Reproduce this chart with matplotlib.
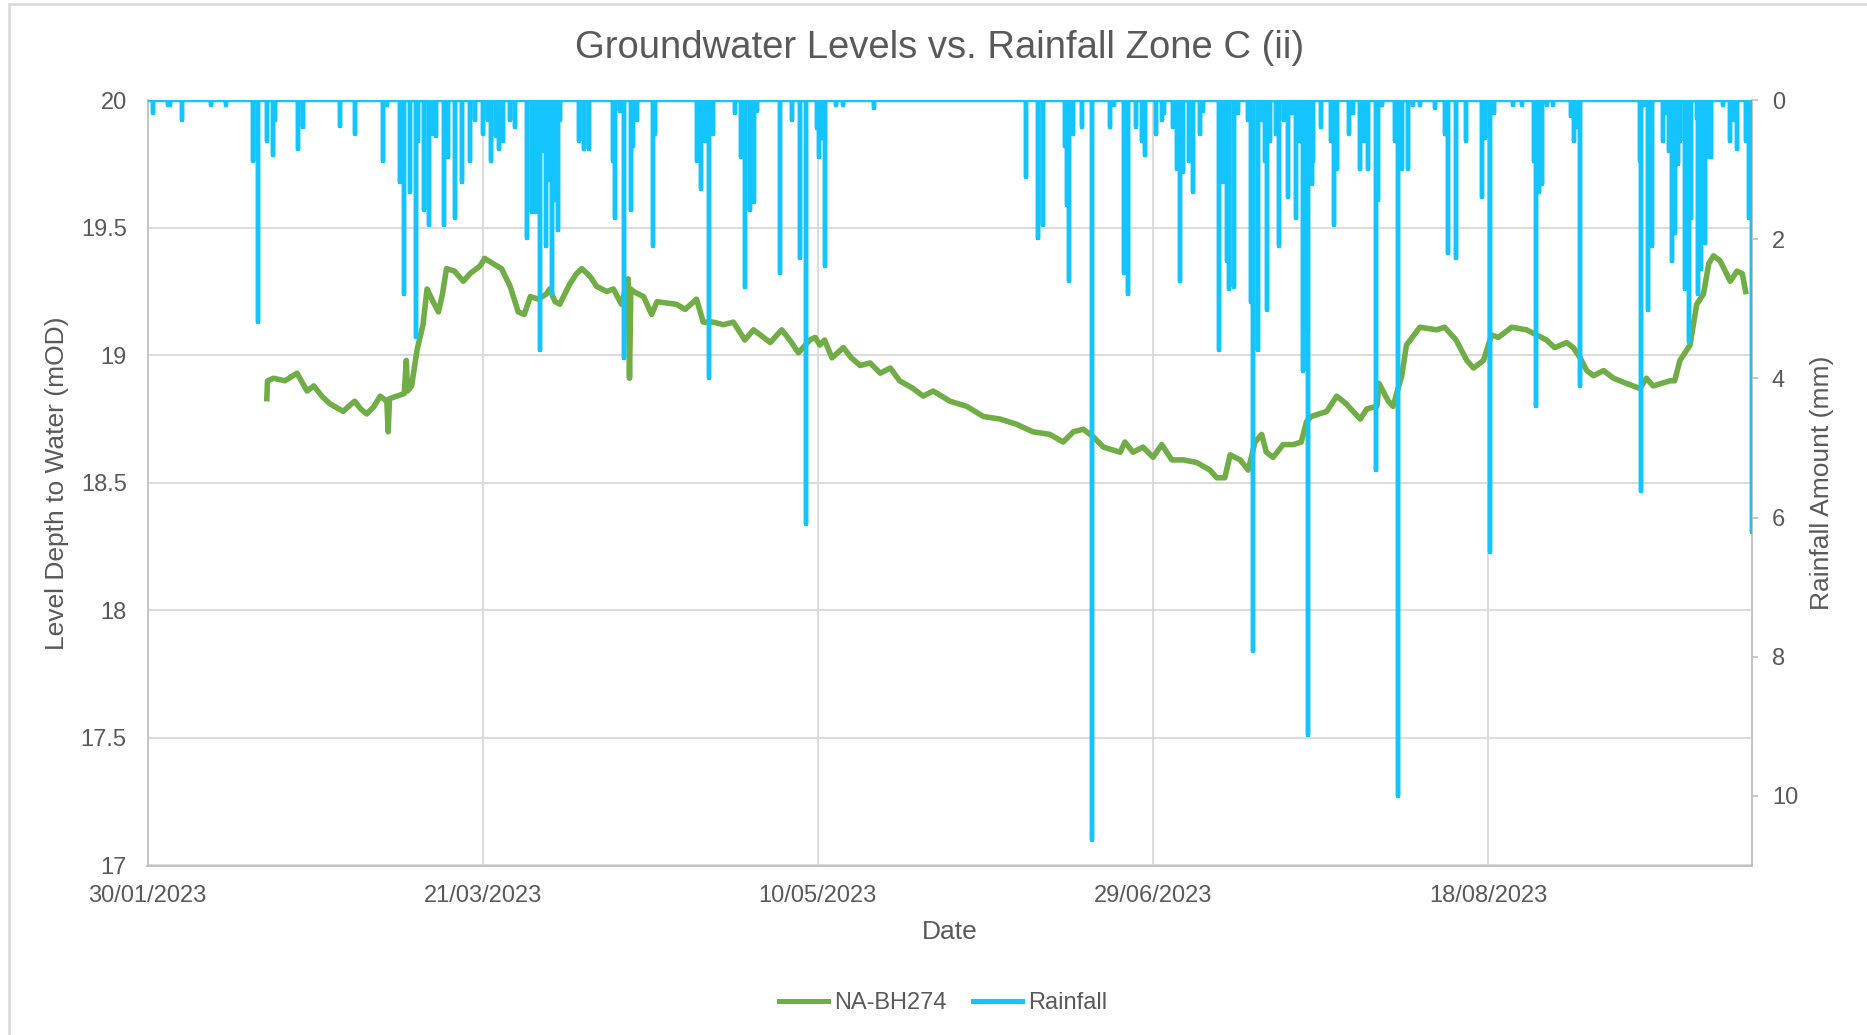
import matplotlib
matplotlib.use("Agg")
import matplotlib.pyplot as plt
import numpy as np
import pandas as pd
from matplotlib.lines import Line2D

plt.rcParams['font.family'] = ['Liberation Sans', 'DejaVu Sans']

# ---------------- data ----------------
start_date = pd.Timestamp('2023-01-30')
axis_span_days = 239.3

date_tick_labels = ['30/01/2023', '21/03/2023', '10/05/2023', '29/06/2023', '18/08/2023']
level_ticks = [17, 17.5, 18, 18.5, 19, 19.5, 20]
rain_ticks = [0, 2, 4, 6, 8, 10]

# Groundwater level NA-BH274 (days since 30/01/2023, mOD)
gw_day = [17.8, 17.9, 18.8, 20.5, 22.3, 23.8, 24.8, 26.0, 27.2, 29.2, 30.0, 30.9, 31.8, 32.7,
          33.8, 34.7, 35.7, 35.9, 36.1, 37.2, 38.3, 38.6, 38.8, 39.4, 40.2, 41.1, 41.7, 42.6,
          43.4, 44.0, 44.6, 45.8, 47.1, 48.1, 49.6, 50.3, 51.5, 52.8, 54.1, 55.3, 56.2, 57.1,
          58.3, 59.5, 60.0, 60.8, 61.5, 63.0, 64.0, 64.8, 66.0, 67.0, 68.5, 69.5, 70.7, 71.7,
          71.9, 72.1, 72.5, 74.0, 75.2, 76.0, 78.9, 80.2, 81.9, 82.9, 84.4, 85.9, 87.4, 89.1,
          90.4, 92.9, 94.6, 95.8, 97.1, 98.8, 99.6, 100.3, 101.0, 102.1, 103.8, 105.0, 106.3,
          107.8, 109.3, 110.8, 112.2, 114.2, 115.7, 117.2, 119.7, 122.2, 124.7, 127.2, 129.6,
          132.1, 134.6, 136.6, 138.1, 139.6, 141.1, 142.6, 145.1, 145.8, 147.0, 148.5, 150.0,
          151.3, 152.8, 154.5, 156.5, 158.5, 159.5, 160.7, 161.5, 163.0, 164.2, 165.2, 166.2,
          166.9, 167.9, 169.4, 170.9, 172.1, 172.9, 173.6, 175.9, 177.4, 178.8, 180.9, 181.9,
          183.4, 183.7, 185.1, 185.8, 187.1, 187.8, 189.8, 192.3, 193.5, 195.2, 196.8, 197.8,
          199.3, 200.5, 201.5, 203.5, 205.7, 207.2, 208.7, 209.9, 211.7, 212.7, 213.7, 214.7,
          215.7, 217.2, 218.7, 220.6, 222.6, 223.6, 224.6, 227.1, 227.8, 228.6, 230.1, 231.1,
          232.1, 232.9, 233.6, 234.6, 236.1, 237.1, 237.9, 238.4]
gw_level = [18.83, 18.90, 18.91, 18.90, 18.93, 18.86, 18.88, 18.84, 18.81, 18.78, 18.80, 18.82,
            18.79, 18.77, 18.80, 18.84, 18.82, 18.70, 18.83, 18.84, 18.85, 18.98, 18.86, 18.88,
            19.02, 19.12, 19.26, 19.21, 19.17, 19.24, 19.34, 19.33, 19.29, 19.32, 19.35, 19.38,
            19.36, 19.34, 19.27, 19.17, 19.16, 19.23, 19.22, 19.24, 19.26, 19.21, 19.20, 19.28,
            19.32, 19.34, 19.31, 19.27, 19.25, 19.26, 19.20, 19.30, 18.91, 19.26, 19.25, 19.23,
            19.16, 19.21, 19.20, 19.18, 19.22, 19.13, 19.13, 19.12, 19.13, 19.06, 19.10, 19.05,
            19.10, 19.06, 19.01, 19.06, 19.07, 19.04, 19.06, 18.99, 19.03, 18.99, 18.96, 18.97,
            18.93, 18.95, 18.90, 18.87, 18.84, 18.86, 18.82, 18.80, 18.76, 18.75, 18.73, 18.70,
            18.69, 18.66, 18.70, 18.71, 18.68, 18.64, 18.62, 18.66, 18.62, 18.64, 18.60, 18.65,
            18.59, 18.59, 18.58, 18.55, 18.52, 18.52, 18.61, 18.59, 18.55, 18.66, 18.69, 18.62,
            18.60, 18.65, 18.65, 18.66, 18.74, 18.76, 18.78, 18.84, 18.81, 18.75, 18.79, 18.80,
            18.89, 18.82, 18.80, 18.92, 19.04, 19.11, 19.10, 19.11, 19.06, 18.98, 18.95, 18.98,
            19.08, 19.07, 19.11, 19.10, 19.08, 19.06, 19.03, 19.05, 19.03, 18.99, 18.94, 18.92,
            18.94, 18.91, 18.89, 18.87, 18.91, 18.88, 18.90, 18.90, 18.98, 19.04, 19.20, 19.24,
            19.36, 19.39, 19.37, 19.29, 19.33, 19.32, 19.25]

# Rainfall events (days since 30/01/2023, mm)
rain_day = [0.8, 3.1, 3.4, 5.2, 9.4, 11.7, 15.8, 16.5, 17.8, 18.7, 19.0, 22.5, 23.2, 28.7, 30.9,
            35.1, 35.7, 37.7, 38.3, 39.1, 40.0, 40.4, 41.2, 42.0, 42.6, 43.1, 44.2, 44.9, 45.9,
            46.9, 48.1, 48.9, 50.1, 50.8, 51.3, 52.0, 52.5, 53.1, 54.1, 54.8, 56.6, 57.3, 57.9,
            58.5, 58.9, 59.5, 60.0, 60.4, 60.8, 61.2, 61.5, 64.4, 65.1, 65.9, 69.5, 69.8, 70.5,
            71.1, 72.1, 72.4, 73.0, 75.4, 75.7, 81.9, 82.5, 83.2, 83.7, 84.4, 87.6, 88.6, 89.2,
            89.9, 90.4, 90.9, 94.3, 96.1, 97.4, 98.2, 99.8, 100.2, 100.6, 101.0, 102.7, 103.8,
            108.4, 131.0, 132.9, 133.6, 136.9, 137.1, 137.4, 138.0, 139.4, 140.9, 143.6, 144.1,
            145.6, 146.2, 147.5, 148.3, 148.8, 150.5, 151.3, 151.6, 153.0, 153.5, 154.0, 154.4,
            155.3, 156.0, 157.0, 157.4, 159.9, 160.5, 161.0, 161.3, 162.1, 162.7, 164.1, 164.6,
            164.95, 165.7, 166.2, 166.7, 167.0, 167.4, 168.3, 168.8, 169.5, 170.2, 170.8, 171.3,
            171.9, 172.4, 172.8, 173.1, 173.7, 173.9, 175.0, 176.6, 177.0, 177.5, 179.3, 179.9,
            180.9, 181.4, 182.0, 183.3, 183.6, 184.1, 186.1, 186.5, 187.1, 188.0, 188.8, 189.8,
            192.0, 193.5, 194.0, 195.2, 196.7, 199.0, 199.5, 200.2, 200.8, 203.7, 205.0, 206.8,
            207.1, 207.5, 208.0, 208.8, 209.7, 212.4, 212.8, 213.3, 213.7, 222.6, 222.8, 223.2,
            223.9, 224.4, 226.0, 226.6, 227.0, 227.4, 227.7, 227.9, 228.3, 228.6, 229.3, 229.7,
            230.0, 230.3, 231.1, 231.3, 231.8, 232.3, 232.6, 233.2, 235.0, 236.1, 236.6, 237.1,
            238.4, 238.9, 239.3]
rain_mm = [0.18, 0.07, 0.07, 0.29, 0.07, 0.07, 0.88, 3.19, 0.59, 0.79, 0.29, 0.70, 0.38, 0.37, 0.48,
           0.88, 0.07, 1.17, 2.79, 1.32, 3.41, 0.59, 1.58, 1.80, 0.48, 0.51, 1.80, 0.81, 1.69,
           1.17, 0.88, 0.29, 0.48, 0.29, 0.88, 0.51, 0.70, 0.59, 0.29, 0.38, 1.98, 1.61, 1.61,
           3.59, 0.73, 2.09, 1.14, 2.79, 1.43, 1.87, 0.29, 0.59, 0.70, 0.70, 0.88, 1.69, 0.15,
           3.70, 1.58, 0.66, 0.29, 2.09, 0.48, 0.88, 1.28, 0.59, 4.00, 0.48, 0.18, 0.81, 2.68,
           1.58, 1.47, 0.15, 2.49, 0.29, 2.27, 6.09, 0.40, 0.81, 0.55, 2.38, 0.07, 0.07,
           0.11, 1.10, 1.98, 1.80, 0.66, 1.50, 2.60, 0.48, 0.38, 10.63, 0.38, 0.07,
           2.49, 2.79, 0.38, 0.59, 0.79, 0.48, 0.29, 0.18, 0.38, 0.99, 2.60, 1.03,
           0.88, 1.32, 0.48, 0.15, 3.59, 1.17, 2.31, 2.71, 2.68, 0.18, 0.29, 2.90,
           7.92, 3.59, 0.29, 0.88, 3.01, 0.59, 0.48, 2.09, 0.29, 1.39, 0.18, 1.69,
           0.59, 3.89, 3.30, 9.13, 1.21, 0.88, 0.38, 0.59, 1.80, 0.99, 0.48, 0.18,
           0.99, 0.59, 0.99, 5.32, 1.43, 0.07, 0.59, 10.0, 0.99, 0.99, 0.07, 0.07,
           0.11, 0.48, 2.20, 2.27, 0.59, 1.39, 0.55, 6.49, 0.18, 0.07, 0.07, 0.88,
           4.40, 1.32, 1.21, 0.07, 0.07, 0.22, 0.59, 0.38, 4.11, 0.88, 5.61, 0.07,
           3.01, 2.09, 0.59, 0.18, 0.73, 2.31, 1.21, 1.91, 0.92, 0.59, 2.71, 1.69,
           3.48, 1.69, 0.26, 2.79, 2.42, 2.05, 0.81, 0.81, 0.07, 0.59, 0.29, 0.70,
           0.59, 1.69, 6.2]

# ---------------- styling ----------------
GREEN = '#70AD47'
BLUE = '#14C4FF'
TEXT = '#595959'
GRID = '#D9D9D9'
SPINE = '#BFBFBF'

W, H = 1867, 1035
fig = plt.figure(figsize=(W / 100, H / 100), dpi=100)
fig.patch.set_facecolor('white')

left_px, right_px, top_px, bot_px = 147.5, 1751.7, 100.2, 865.5
ax = fig.add_axes([left_px / W, 1 - bot_px / H, (right_px - left_px) / W, (bot_px - top_px) / H])
aw = right_px - left_px
ah = bot_px - top_px

gw_dates = (start_date + pd.to_timedelta(gw_day, unit='D')).values
ax.plot(gw_dates, gw_level, color=GREEN, lw=4.0, solid_joinstyle='round', zorder=3)

x_min = start_date.to_datetime64()
x_max = (start_date + pd.Timedelta(days=axis_span_days)).to_datetime64()
ax.set_xlim(x_min, x_max)
ax.set_ylim(17, 20)
ax.set_yticks(level_ticks)
ax.set_yticklabels(['%g' % v for v in level_ticks])

tick_dates = pd.to_datetime(date_tick_labels, dayfirst=True).values
ax.set_xticks(tick_dates)
ax.set_xticklabels(date_tick_labels)

ax.grid(True, color=GRID, lw=1.3, zorder=0)
ax.set_axisbelow(True)
for s in ['top', 'right']:
    ax.spines[s].set_visible(False)
for s in ['left', 'bottom']:
    ax.spines[s].set_color(SPINE)
    ax.spines[s].set_linewidth(1.3)
ax.tick_params(axis='both', length=0, labelsize=17, labelcolor=TEXT)
ax.tick_params(axis='y', pad=15)
ax.tick_params(axis='x', pad=14)
ax.set_xlabel('Date', fontsize=19, color=TEXT)
ax.xaxis.set_label_coords(0.5, (bot_px - 932) / ah)
ax.xaxis.label.set_va('center')
ax.set_ylabel('Level Depth to Water (mOD)', fontsize=19, color=TEXT)
ax.yaxis.set_label_coords((57 - left_px) / aw, 0.5)
ax.yaxis.label.set_va('center')

# rainfall on a reversed secondary axis
ax2 = ax.twinx()
rain_dates = (start_date + pd.to_timedelta(rain_day, unit='D')).values
rx = [x_min]
ry = [0.0]
for d, v in zip(rain_dates, rain_mm):
    rx += [d, d, d]
    ry += [0.0, v, 0.0]
rx.append(x_max)
ry.append(0.0)
ax2.plot(rx, ry, color=BLUE, lw=3.2, solid_joinstyle='round', solid_capstyle='round', zorder=4)
ax2.set_ylim(11, 0)
ax2.set_xlim(x_min, x_max)
ax2.set_yticks(rain_ticks)
ax2.set_yticklabels([str(v) for v in rain_ticks])
for s in ['top', 'left', 'bottom']:
    ax2.spines[s].set_visible(False)
ax2.spines['right'].set_color(SPINE)
ax2.spines['right'].set_linewidth(1.3)
ax2.tick_params(axis='y', direction='out', length=4.5, width=1.2, color=SPINE,
                labelsize=17, labelcolor=TEXT, pad=10)
ax2.set_ylabel('Rainfall Amount (mm)', fontsize=19, color=TEXT)
ax2.yaxis.set_label_coords((1822 - left_px) / aw, 0.5)
ax2.yaxis.label.set_va('center')

fig.text(939.5 / W, 1 - 47.6 / H, 'Groundwater Levels vs. Rainfall Zone C (ii)',
         ha='center', va='center', fontsize=27.5, color=TEXT)

handles = [Line2D([], [], color=GREEN, lw=3.6), Line2D([], [], color=BLUE, lw=3.6)]
fig.legend(handles, ['NA-BH274', 'Rainfall'], loc='center', bbox_to_anchor=(943 / W, 1 - 1003 / H),
           ncol=2, frameon=False, fontsize=17, handlelength=2.1, columnspacing=1.1,
           handletextpad=0.25, labelcolor=TEXT)

# chart frame (left/top edges)
fig.add_artist(Line2D([9 / W, 9 / W], [0, 1 - 3.5 / H], transform=fig.transFigure,
                      color=GRID, lw=1.8))
fig.add_artist(Line2D([9 / W, 1], [1 - 3.5 / H, 1 - 3.5 / H], transform=fig.transFigure,
                      color=GRID, lw=1.8))

fig.savefig('out.png', dpi=100, facecolor='white')
